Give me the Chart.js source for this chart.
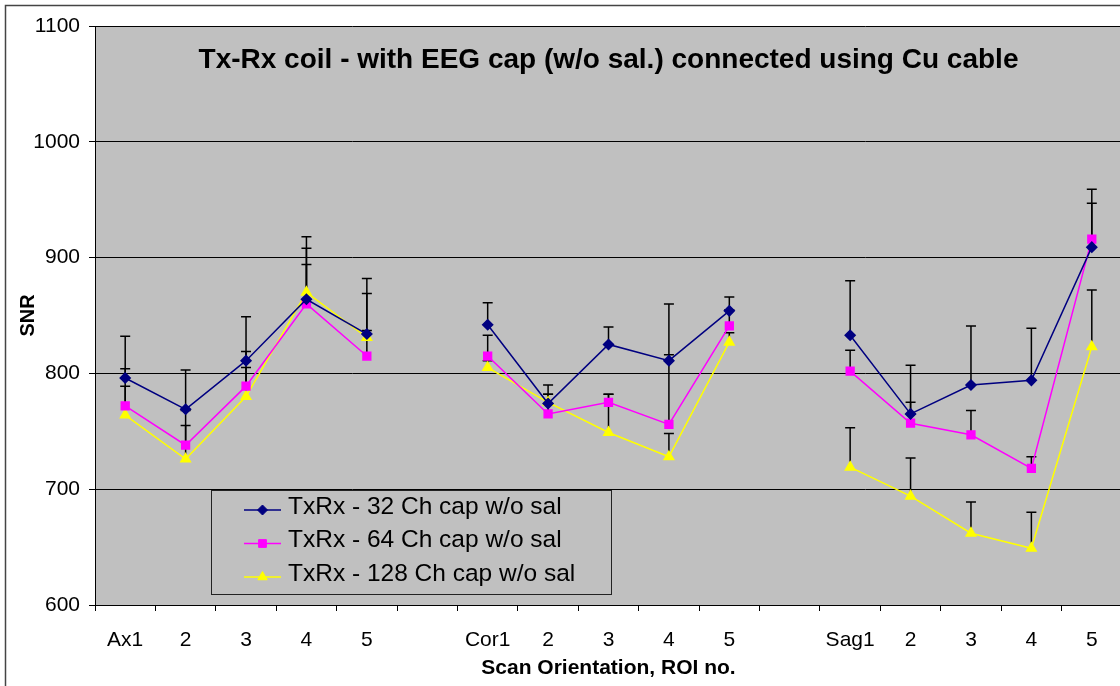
<!DOCTYPE html>
<html>
<head>
<meta charset="utf-8">
<script src="https://cdn.jsdelivr.net/npm/chart.js@4/dist/chart.umd.min.js"></script>
<style>
  html, body { margin: 0; padding: 0; background: #fff; overflow: hidden; }
  #wrap { position: relative; width: 1120px; height: 686px; overflow: hidden; }
</style>
</head>
<body>
<div id="wrap"><canvas id="snrChart" width="1129" height="686"></canvas></div>
<script>
// ROI labels per scan orientation (blank entries separate the groups)
const categories = ['Ax1', '2', '3', '4', '5', '', 'Cor1', '2', '3', '4', '5', '', 'Sag1', '2', '3', '4', '5'];

// Mean SNR per ROI
const snr32  = [796, 769, 811, 864, 834, null, 842, 774, 825, 811, 854, null, 833, 765, 790, 794, 909];
const snr64  = [772, 738, 789, 860, 815, null, 815, 765, 775, 756, 841, null, 802, 757, 747, 718, 916];
const snr128 = [764, 726, 780, 870, 831, null, 805, 775, 749, 728, 827, null, 719, 694, 662, 649, 823];

// Upper error (standard deviation) per ROI
const err32  = [36, 34, 38, 54, 48, null, 19, 16, 15, 49, 12, null, 47, 42, 51, 45, 38];
const err64  = [32, 30, 30, 48, 54, null, 18, 17, 7, 60, 14, null, 18, 18, 21, 10, 43];
const err128 = [25, 29, 25, 24, 6, null, 6, 7, 33, 20, 8, null, 34, 33, 27, 31, 49];

const seriesNames = ['TxRx - 32 Ch cap w/o sal', 'TxRx - 64 Ch cap w/o sal', 'TxRx - 128 Ch cap w/o sal'];
const yTickValues = [600, 700, 800, 900, 1000, 1100];

const chartTitle = 'Tx-Rx coil - with EEG cap (w/o sal.) connected using Cu cable';
const xTitle = 'Scan Orientation, ROI no.';
const yTitle = 'SNR';

const FONT = '"Liberation Sans", Arial, Helvetica, sans-serif';
const errorSets = [err32, err64, err128];

// Page frame and grey plot area
const backdrop = {
  id: 'backdrop',
  beforeDraw(chart) {
    const { ctx, chartArea: a } = chart;
    ctx.save();
    ctx.fillStyle = '#fff';
    ctx.fillRect(0, 0, chart.width, chart.height);
    ctx.strokeStyle = '#444';
    ctx.lineWidth = 1.5;
    ctx.beginPath();
    ctx.moveTo(5.5, chart.height);
    ctx.lineTo(5.5, 5.5);
    ctx.lineTo(chart.width, 5.5);
    ctx.stroke();
    ctx.fillStyle = '#C0C0C0';
    ctx.fillRect(a.left, a.top, a.right - a.left, a.bottom - a.top);
    ctx.restore();
  }
};

// Upper error bars with caps
const errorBars = {
  id: 'errorBars',
  beforeDatasetsDraw(chart) {
    const { ctx, scales: { x, y } } = chart;
    ctx.save();
    ctx.strokeStyle = '#000';
    ctx.lineWidth = 1.5;
    chart.data.datasets.forEach((ds, i) => {
      const errs = errorSets[i];
      ds.data.forEach((v, j) => {
        if (v == null || errs[j] == null) return;
        const px = x.getPixelForValue(j);
        const y0 = y.getPixelForValue(v);
        const y1 = y.getPixelForValue(v + errs[j]);
        ctx.beginPath();
        ctx.moveTo(px, y0);
        ctx.lineTo(px, y1);
        ctx.moveTo(px - 5, y1);
        ctx.lineTo(px + 5, y1);
        ctx.stroke();
      });
    });
    ctx.restore();
  }
};

// Title inside the plot area and boxed legend
const overlay = {
  id: 'overlay',
  afterDraw(chart) {
    const { ctx, chartArea: a } = chart;
    ctx.save();
    ctx.fillStyle = '#000';
    ctx.font = 'bold 28px ' + FONT;
    ctx.textAlign = 'center';
    ctx.textBaseline = 'middle';
    ctx.fillText(chartTitle, (a.left + a.right) / 2, 60);

    // legend box
    const bx = 211.5, by = 490.5, bw = 400, bh = 104;
    ctx.fillStyle = '#C0C0C0';
    ctx.fillRect(bx, by, bw, bh);
    ctx.strokeStyle = '#222';
    ctx.lineWidth = 1;
    ctx.strokeRect(bx, by, bw, bh);

    chart.data.datasets.forEach((ds, i) => {
      const ry = 510 + i * 33.5;
      ctx.strokeStyle = ds.borderColor;
      ctx.lineWidth = 1.5;
      ctx.beginPath();
      ctx.moveTo(244, ry);
      ctx.lineTo(281, ry);
      ctx.stroke();
      ctx.fillStyle = ds.pointBackgroundColor;
      ctx.strokeStyle = ds.pointBorderColor;
      ctx.lineWidth = 1;
      Chart.helpers.drawPoint(ctx, { pointStyle: ds.pointStyle, radius: ds.pointRadius, borderWidth: 1, rotation: 0 }, 262.5, ry);
      ctx.fillStyle = '#000';
      ctx.font = '24.5px ' + FONT;
      ctx.textAlign = 'left';
      ctx.textBaseline = 'middle';
      ctx.fillText(ds.label, 288, ry - 3);
    });
    ctx.restore();
  }
};

new Chart(document.getElementById('snrChart'), {
  type: 'line',
  data: {
    labels: categories,
    datasets: [
      {
        label: seriesNames[0], data: snr32,
        borderColor: '#000080', backgroundColor: '#000080',
        pointBackgroundColor: '#000080', pointBorderColor: '#000080',
        pointStyle: 'rectRot', pointRadius: 5, borderWidth: 1.5
      },
      {
        label: seriesNames[1], data: snr64,
        borderColor: '#FF00FF', backgroundColor: '#FF00FF',
        pointBackgroundColor: '#FF00FF', pointBorderColor: '#FF00FF',
        pointStyle: 'rect', pointRadius: 5.5, borderWidth: 1.5
      },
      {
        label: seriesNames[2], data: snr128,
        borderColor: '#FFFF00', backgroundColor: '#FFFF00',
        pointBackgroundColor: '#FFFF00', pointBorderColor: '#FFFF00',
        pointStyle: 'triangle', pointRadius: 5.5, borderWidth: 1.5
      }
    ]
  },
  options: {
    responsive: false,
    animation: false,
    devicePixelRatio: 1,
    spanGaps: false,
    elements: { line: { tension: 0 }, point: { borderWidth: 1 } },
    layout: { padding: { left: 0, top: 26, right: 0, bottom: 0 } },
    plugins: {
      legend: { display: false },
      title: { display: false },
      tooltip: { enabled: false }
    },
    scales: {
      x: {
        type: 'category',
        offset: true,
        afterFit(scale) { scale.height = 81; },
        grid: { offset: true, drawOnChartArea: false, drawTicks: true, tickLength: 6, color: '#000', lineWidth: 1 },
        border: { display: true, color: '#000', width: 1 },
        ticks: { color: '#000', font: { family: FONT, size: 21 }, padding: 17, maxRotation: 0, autoSkip: false },
        title: { display: true, text: xTitle, color: '#000', font: { family: FONT, size: 21, weight: 'bold' }, padding: { top: 0, bottom: 5 } }
      },
      y: {
        min: 600, max: 1100,
        afterFit(scale) { scale.width = 95; },
        afterBuildTicks(scale) { scale.ticks = yTickValues.map(v => ({ value: v })); },
        grid: { color: '#000', lineWidth: 1, drawTicks: true, tickLength: 6 },
        border: { display: true, color: '#000', width: 1 },
        ticks: { color: '#000', font: { family: FONT, size: 21 }, padding: 9, callback: (v) => String(v) },
        title: { display: true, text: yTitle, color: '#000', font: { family: FONT, size: 20, weight: 'bold' }, padding: { top: 16, bottom: 0 } }
      }
    }
  },
  plugins: [backdrop, errorBars, overlay]
});
</script>
</body>
</html>
